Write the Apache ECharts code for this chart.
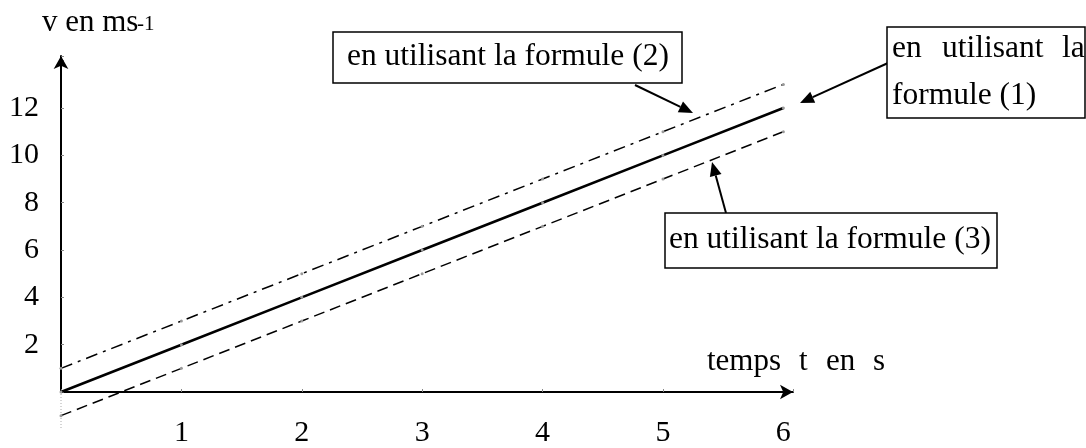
<!DOCTYPE html>
<html>
<head>
<meta charset="utf-8">
<script src="https://cdn.jsdelivr.net/npm/echarts@6/dist/echarts.min.js"></script>
<style>
  html, body { margin: 0; padding: 0; background: #fff; }
  #chart { width: 1086px; height: 448px; }
</style>
</head>
<body>
<div id="chart"></div>
<script>
// valeurs
const tValues = [0, 1, 2, 3, 4, 5, 6];
const vFormule1 = [0, 2, 4, 6, 8, 10, 12];
const vFormule2 = [1, 3, 5, 7, 9, 11, 13];
const vFormule3 = [-1, 1, 3, 5, 7, 9, 11];
const xTickLabels = [1, 2, 3, 4, 5, 6];
const yTickLabels = [2, 4, 6, 8, 10, 12];

const FONT = "'Liberation Serif', 'Times New Roman', serif";

function pairs(xs, ys) {
  return xs.map((x, i) => [x, ys[i]]);
}

// fleche d'annotation : trait + pointe
function arrow(x1, y1, x2, y2) {
  const ang = Math.atan2(y2 - y1, x2 - x1);
  const len = 14, half = 6;
  const bx = x2 - len * Math.cos(ang), by = y2 - len * Math.sin(ang);
  const px = -Math.sin(ang) * half, py = Math.cos(ang) * half;
  return {
    type: 'group',
    z: 10,
    children: [
      { type: 'line', shape: { x1: x1, y1: y1, x2: bx, y2: by }, style: { stroke: '#000', lineWidth: 2 } },
      { type: 'polygon', shape: { points: [[x2, y2], [bx + px, by + py], [bx - px, by - py]] }, style: { fill: '#000' } }
    ]
  };
}

function txt(text, x, y, size, align) {
  return {
    type: 'text', z: 11, x: x, y: y,
    style: { text: text, font: size + 'px ' + FONT, fill: '#000', textAlign: align || 'left', textVerticalAlign: 'middle' }
  };
}

function box(x, y, w, h) {
  return {
    type: 'rect', z: 9,
    shape: { x: x, y: y, width: w, height: h },
    style: { fill: '#fff', stroke: '#000', lineWidth: 1.5 }
  };
}

const chart = echarts.init(document.getElementById('chart'));

const lineBase = {
  type: 'line',
  clip: false,
  symbol: 'circle',
  symbolSize: 3,
  itemStyle: { color: '#999' },
  emphasis: { disabled: true },
  animation: false
};

const option = {
  animation: false,
  grid: { left: 61, right: 293, top: 56, bottom: 55 },
  xAxis: {
    type: 'value',
    min: 0,
    max: 6.08,
    interval: 1,
    splitLine: { show: false },
    axisLine: {
      lineStyle: { color: '#000', width: 2 },
      symbol: ['none', 'arrow'],
      symbolSize: [11, 13]
    },
    axisTick: { show: true, inside: true, length: 3, lineStyle: { color: '#888' } },
    axisLabel: {
      margin: 26,
      fontFamily: FONT,
      fontSize: 30,
      color: '#000',
      formatter: v => xTickLabels.includes(v) ? String(v) : ''
    }
  },
  yAxis: {
    type: 'value',
    min: 0,
    max: 14.2,
    interval: 2,
    splitLine: { show: false },
    axisLine: {
      lineStyle: { color: '#000', width: 2 },
      symbol: ['none', 'arrow'],
      symbolSize: [11, 13]
    },
    axisTick: { show: true, inside: true, length: 3, lineStyle: { color: '#888' } },
    axisLabel: {
      margin: 22,
      fontFamily: FONT,
      fontSize: 30,
      color: '#000',
      formatter: v => yTickLabels.includes(v) ? String(v) : ''
    }
  },
  series: [
    Object.assign({}, lineBase, {
      name: 'formule (1)',
      data: pairs(tValues, vFormule1),
      lineStyle: { color: '#000', width: 2.6, type: 'solid' }
    }),
    Object.assign({}, lineBase, {
      name: 'formule (2)',
      data: pairs(tValues, vFormule2),
      lineStyle: { color: '#000', width: 1.5, type: [12, 6, 3, 6] }
    }),
    Object.assign({}, lineBase, {
      name: 'formule (3)',
      data: pairs(tValues, vFormule3),
      lineStyle: { color: '#000', width: 1.5, type: [11, 6] }
    })
  ],
  graphic: [
    // prolongement pointille de l'axe vertical sous l'origine
    { type: 'line', shape: { x1: 61, y1: 394, x2: 61, y2: 428 }, style: { stroke: '#aaa', lineWidth: 1, lineDash: [1, 2] } },
    txt('v en ms', 42, 23, 31),
    txt('-1', 137, 24, 21),

    txt('temps', 707, 362, 31),
    txt('t', 799, 362, 31),
    txt('en', 826, 362, 31),
    txt('s', 873, 362, 31),

    box(333, 32, 349, 51),
    txt('en utilisant la formule (2)', 347, 57, 31.5),
    arrow(635, 85, 693, 113),

    box(887, 27, 198, 91),
    txt('en', 892, 49, 31.5),
    txt('utilisant', 942, 49, 31.5),
    txt('la', 1062, 49, 31.5),
    txt('formule (1)', 892, 96, 31.5),
    arrow(888, 63, 800, 103),

    box(665, 213, 332, 55),
    txt('en utilisant la formule (3)', 669, 240, 31.5),
    arrow(726, 213, 712, 162)
  ]
};

chart.setOption(option);
</script>
</body>
</html>
